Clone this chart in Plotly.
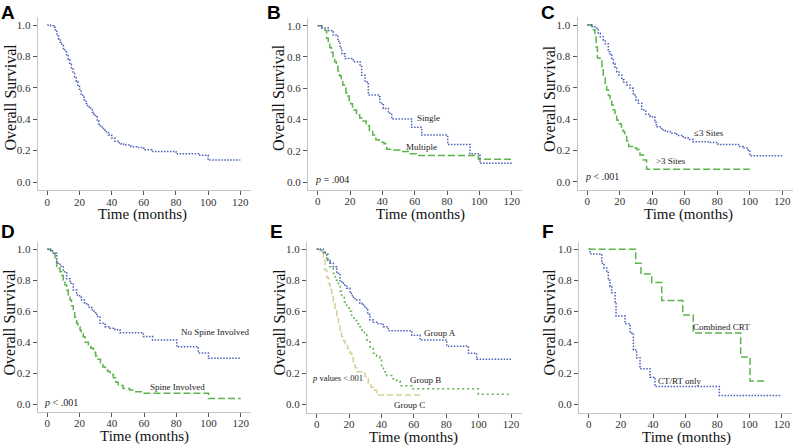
import plotly.graph_objects as go

# ---------------- data (months, survival) ----------------
A_t = [0, 2, 4, 5, 6, 7, 8, 9, 10, 11, 12, 13, 14, 15, 16, 17, 18, 19, 20, 21, 22, 23, 24, 25, 26, 27, 28, 29, 30, 31, 32, 33, 34, 35, 36, 38, 40, 42, 44, 46, 48, 52, 56, 60, 65, 80, 94, 100, 120]
A_s = [1.0, 0.995, 0.985, 0.96, 0.93, 0.91, 0.89, 0.87, 0.85, 0.83, 0.81, 0.78, 0.75, 0.72, 0.70, 0.67, 0.64, 0.61, 0.59, 0.56, 0.54, 0.52, 0.50, 0.48, 0.47, 0.46, 0.445, 0.43, 0.415, 0.39, 0.37, 0.35, 0.34, 0.33, 0.32, 0.30, 0.28, 0.26, 0.25, 0.24, 0.235, 0.225, 0.22, 0.205, 0.195, 0.18, 0.17, 0.14, 0.14]

B_single_t = [0, 2.5, 6.5, 9.6, 12.5, 13.8, 15, 16.9, 22, 26.2, 27.2, 29.3, 31.3, 37.5, 38.5, 40.6, 43.7, 45.8, 58.1, 64.3, 80.4, 94.2, 100.4, 120]
B_single_s = [1.0, 0.985, 0.97, 0.94, 0.90, 0.857, 0.82, 0.79, 0.77, 0.748, 0.683, 0.64, 0.557, 0.546, 0.503, 0.47, 0.44, 0.403, 0.35, 0.30, 0.24, 0.18, 0.12, 0.12]
B_multi_t = [0, 2.5, 4.5, 5.5, 6.5, 7.5, 8.5, 9.5, 10.5, 11.5, 12.5, 13.5, 14.5, 15.5, 16.5, 17.5, 18.5, 19.5, 20.5, 21.5, 22.5, 24, 26, 28, 30, 32, 34, 36, 38, 41, 42.7, 47, 52, 56, 61, 99.4, 120]
B_multi_s = [1.0, 0.985, 0.97, 0.92, 0.89, 0.86, 0.83, 0.80, 0.77, 0.74, 0.71, 0.68, 0.65, 0.62, 0.60, 0.57, 0.55, 0.52, 0.50, 0.48, 0.46, 0.43, 0.41, 0.39, 0.36, 0.33, 0.30, 0.27, 0.255, 0.245, 0.21, 0.205, 0.195, 0.18, 0.17, 0.145, 0.145]

C_le3_t = [0, 2.7, 4.7, 6.8, 8, 9.8, 11, 12.9, 14, 15, 16, 17, 18.1, 19.5, 21.2, 22.5, 24.2, 26.3, 28.3, 30, 31.4, 33.5, 36, 38.6, 41.5, 42.5, 45.7, 48, 51, 55, 59, 62, 65.2, 74.5, 80.5, 93, 96, 99, 100, 120]
C_le3_s = [1.0, 0.99, 0.98, 0.947, 0.925, 0.904, 0.88, 0.83, 0.81, 0.78, 0.755, 0.73, 0.70, 0.68, 0.65, 0.635, 0.617, 0.596, 0.553, 0.52, 0.50, 0.457, 0.43, 0.415, 0.38, 0.35, 0.33, 0.32, 0.31, 0.295, 0.28, 0.27, 0.255, 0.25, 0.238, 0.225, 0.215, 0.20, 0.166, 0.166]
C_gt3_t = [0, 2.7, 3.7, 4.7, 5.4, 6.2, 7.8, 9, 9.8, 11, 11.9, 13, 14, 15, 16, 17, 18.1, 19, 21, 22, 23, 24.2, 25.5, 28, 30.4, 32.4, 34.5, 36.5, 100]
C_gt3_s = [1.0, 0.99, 0.97, 0.925, 0.86, 0.79, 0.77, 0.72, 0.67, 0.62, 0.585, 0.55, 0.52, 0.49, 0.457, 0.42, 0.394, 0.37, 0.34, 0.32, 0.30, 0.26, 0.225, 0.215, 0.205, 0.17, 0.138, 0.08, 0.08]

D_nospine_t = [0, 2, 3.7, 5.8, 7.9, 9.9, 12, 14.1, 16.1, 18.2, 20, 21.3, 23, 24.4, 26, 27.5, 29, 30.7, 32.7, 35.8, 38.9, 42, 45.1, 59.6, 65.3, 80.3, 93.7, 100, 120]
D_nospine_s = [1.0, 0.99, 0.974, 0.91, 0.89, 0.855, 0.81, 0.78, 0.737, 0.705, 0.69, 0.672, 0.655, 0.64, 0.625, 0.608, 0.59, 0.565, 0.522, 0.50, 0.49, 0.48, 0.46, 0.436, 0.414, 0.37, 0.33, 0.295, 0.295]
D_spine_t = [0, 2, 3.7, 4.8, 5.8, 7.9, 9, 9.9, 11, 12, 13, 14.1, 15, 16.1, 17, 18.2, 19, 20.3, 21, 22.3, 23.5, 25.5, 27, 28.6, 30, 31.5, 33, 34.5, 36, 37.5, 39, 41, 42.5, 44, 47, 51, 54, 59.6, 100, 120]
D_spine_s = [1.0, 0.99, 0.974, 0.93, 0.877, 0.855, 0.83, 0.80, 0.77, 0.737, 0.705, 0.672, 0.635, 0.597, 0.56, 0.522, 0.50, 0.478, 0.455, 0.435, 0.40, 0.381, 0.36, 0.335, 0.31, 0.29, 0.265, 0.24, 0.22, 0.21, 0.19, 0.17, 0.14, 0.12, 0.10, 0.09, 0.08, 0.07, 0.035, 0.035]

E_A_t = [0, 4.1, 6.2, 8.2, 10.3, 12.4, 14.4, 16.5, 18.5, 20.6, 22, 23.7, 26.7, 28, 29.8, 31.5, 32.9, 35, 37.1, 41.1, 44.2, 58.7, 63.8, 80.3, 93.7, 98.8, 120]
E_A_s = [1.0, 0.974, 0.93, 0.91, 0.888, 0.845, 0.79, 0.77, 0.748, 0.716, 0.69, 0.673, 0.652, 0.64, 0.62, 0.58, 0.544, 0.53, 0.52, 0.50, 0.475, 0.445, 0.415, 0.375, 0.33, 0.29, 0.29]
E_B_t = [0, 3, 5.1, 7, 8.2, 10.3, 11.5, 13.4, 14.5, 15.4, 17, 18.5, 20, 21.6, 23, 24.7, 26, 27.8, 29.5, 30.9, 32.9, 35, 37, 39, 40, 41.2, 43.2, 46.3, 49.4, 51.5, 58.7, 99.8, 120]
E_B_s = [1.0, 0.99, 0.97, 0.92, 0.888, 0.845, 0.80, 0.76, 0.73, 0.695, 0.66, 0.63, 0.60, 0.565, 0.54, 0.52, 0.50, 0.48, 0.45, 0.415, 0.37, 0.33, 0.31, 0.30, 0.25, 0.21, 0.185, 0.165, 0.15, 0.12, 0.10, 0.065, 0.065]
E_C_t = [0, 2, 4.1, 5.1, 6.2, 7.2, 8.2, 9.3, 10.3, 11.3, 12.4, 13.4, 14.4, 15.4, 16.5, 17.5, 19, 20.6, 21.6, 22.6, 23.7, 24.7, 27.8, 29.8, 31.9, 33.5, 35, 37, 63.8]
E_C_s = [1.0, 0.99, 0.95, 0.866, 0.82, 0.78, 0.74, 0.695, 0.65, 0.608, 0.565, 0.52, 0.48, 0.436, 0.41, 0.39, 0.36, 0.33, 0.30, 0.265, 0.235, 0.21, 0.20, 0.18, 0.135, 0.11, 0.09, 0.06, 0.06]

F_crt_t = [0, 29.2, 32.5, 39.2, 45.4, 58.5, 65, 94.5, 100.3, 109.6]
F_crt_s = [1.0, 0.91, 0.84, 0.785, 0.67, 0.576, 0.46, 0.305, 0.15, 0.15]
F_only_t = [0, 0.8, 8.1, 9.5, 11.2, 12.2, 13.2, 14.3, 16.4, 17, 22.6, 25.7, 27.8, 29.8, 31.9, 38.1, 41.2, 81.2, 120]
F_only_s = [1.0, 0.97, 0.91, 0.88, 0.85, 0.80, 0.76, 0.72, 0.65, 0.57, 0.52, 0.46, 0.35, 0.30, 0.23, 0.175, 0.115, 0.057, 0.057]

x_ticks = [0, 20, 40, 60, 80, 100, 120]
y_ticks = [0.0, 0.2, 0.4, 0.6, 0.8, 1.0]
panel_letters = ["A", "B", "C", "D", "E", "F"]
y_title = "Overall Survival"
x_title = "Time (months)"

# ---------------- styling / layout ----------------
W, H = 795, 446
BLUE = "#4d5fb8"
GREEN = "#5cb44c"
TAN = "#d8cf98"
SERIF = "Liberation Serif, Times New Roman, serif"
SANS = "Liberation Sans, Arial, sans-serif"
XR = [-6, 126.5]
YR = [-0.053, 1.05]

# pixel positions of (x=0, x=120, y=1.0, y=0.0) for each panel
panels_px = [
    (47.3, 240.3, 25.0, 182.0),
    (317.7, 511.7, 25.7, 182.0),
    (587.3, 782.3, 25.0, 181.7),
    (47.3, 240.7, 249.3, 404.0),
    (316.7, 511.0, 249.3, 404.3),
    (588.7, 781.7, 249.3, 404.3),
]

fig = go.Figure()
layout = dict(width=W, height=H, margin=dict(l=0, r=0, t=0, b=0),
              paper_bgcolor="white", plot_bgcolor="white", showlegend=False,
              annotations=[])

for i, (x0, x120, y1, y0) in enumerate(panels_px):
    n = i + 1
    sx = (x120 - x0) / 120.0
    sy = (y0 - y1)
    pl = x0 + XR[0] * sx
    pr = x0 + XR[1] * sx
    pt = y0 - YR[1] * sy
    pb = y0 - YR[0] * sy
    xa = "xaxis" if n == 1 else f"xaxis{n}"
    ya = "yaxis" if n == 1 else f"yaxis{n}"
    layout[xa] = dict(domain=[pl / W, pr / W], range=XR, anchor=f"y{'' if n == 1 else n}",
                      showline=True, linecolor="#c4c4c4", linewidth=1, showgrid=False, zeroline=False,
                      ticks="outside", ticklen=4, tickcolor="#555", tickwidth=1,
                      ticklabelstandoff=-3,
                      tickvals=x_ticks, ticktext=[str(v) for v in x_ticks],
                      tickfont=dict(family=SERIF, size=11, color="#333"))
    layout[ya] = dict(domain=[1 - pb / H, 1 - pt / H], range=YR, anchor=f"x{'' if n == 1 else n}",
                      showline=True, linecolor="#c4c4c4", linewidth=1, showgrid=False, zeroline=False,
                      ticks="outside", ticklen=4, tickcolor="#555", tickwidth=1,
                      tickvals=y_ticks, ticktext=[f"{v:.1f}" for v in y_ticks],
                      tickfont=dict(family=SERIF, size=11, color="#333"))

def add(t, s, n, color, dash, width=1.5):
    fig.add_trace(go.Scatter(x=t, y=s, mode="lines", line=dict(color=color, dash=dash, width=width, shape="hv"),
                             xaxis=f"x{'' if n == 1 else n}", yaxis=f"y{'' if n == 1 else n}", hoverinfo="skip"))

DOT = "1.5px,1.5px"
DASH = "7px,3px"
add(A_t, A_s, 1, BLUE, DOT)
add(B_multi_t, B_multi_s, 2, GREEN, DASH)
add(B_single_t, B_single_s, 2, BLUE, DOT)
add(C_gt3_t, C_gt3_s, 3, GREEN, DASH)
add(C_le3_t, C_le3_s, 3, BLUE, DOT)
add(D_spine_t, D_spine_s, 4, GREEN, DASH)
add(D_nospine_t, D_nospine_s, 4, BLUE, DOT)
add(E_C_t, E_C_s, 5, TAN, "6px,3px")
add(E_B_t, E_B_s, 5, GREEN, "2px,3px")
add(E_A_t, E_A_s, 5, BLUE, DOT)
add(F_only_t, F_only_s, 6, BLUE, DOT)
add(F_crt_t, F_crt_s, 6, GREEN, DASH)

ann = layout["annotations"]
# panel letters and axis titles (pixel centres)
letter_px = [(8, 13), (273.5, 13), (548, 13), (7.5, 232), (276.7, 232), (548.3, 232)]
ytitle_px = [(10, 97.5), (279, 98), (550, 99), (9, 322.5), (279, 322.5), (549, 322.5)]
xtitle_px = [(142.8, 214.5), (420.3, 214.5), (688.8, 214.5), (144.2, 436.5), (413.8, 437.5), (686.7, 437.5)]
for i in range(6):
    lx, ly = letter_px[i]
    ann.append(dict(text=f"<b>{panel_letters[i]}</b>", x=lx / W, y=1 - ly / H, xref="paper", yref="paper",
                    xanchor="center", yanchor="middle", showarrow=False,
                    font=dict(family=SANS, size=19, color="black")))
    tx, ty = ytitle_px[i]
    ann.append(dict(text=y_title, x=tx / W, y=1 - ty / H, xref="paper", yref="paper", textangle=-90,
                    xanchor="center", yanchor="middle", showarrow=False,
                    font=dict(family=SERIF, size=16, color="#111")))
    tx, ty = xtitle_px[i]
    ann.append(dict(text=x_title, x=tx / W, y=1 - ty / H, xref="paper", yref="paper",
                    xanchor="center", yanchor="middle", showarrow=False,
                    font=dict(family=SERIF, size=15, color="#111")))

def label(n, text, x, y, size=9, anchor="center"):
    ann.append(dict(text=text, x=x, y=y, xref=f"x{'' if n == 1 else n}", yref=f"y{'' if n == 1 else n}",
                    xanchor=anchor, yanchor="middle", showarrow=False,
                    font=dict(family=SERIF, size=size, color="#222")))

label(2, "Single", 68.5, 0.41)
label(2, "Multiple", 64.3, 0.224)
label(2, "<i>p</i> = .004", -2.7, 0.017, size=10, anchor="left")
label(3, "≤3 Sites", 74.9, 0.31)
label(3, ">3 Sites", 51.3, 0.132)
label(3, "<i>p</i> < .001", -2.5, 0.032, size=10, anchor="left")
label(4, "No Spine Involved", 104, 0.468)
label(4, "Spine Involved", 80.5, 0.108)
label(4, "<i>p</i> < .001", -3.5, 0.009, size=10, anchor="left")
label(5, "Group A", 76, 0.462)
label(5, "Group B", 67, 0.16)
label(5, "Group C", 57.2, -0.004)
label(5, "<i>p</i> values <.001", -4.1, 0.168, size=8.5, anchor="left")
label(6, "Combined CRT", 82.5, 0.497)
label(6, "CT/RT only", 56.8, 0.153)

fig.update_layout(**layout)
fig.write_html("out.html", config={"displayModeBar": False},
               post_script="document.body.style.margin='0px';document.body.style.overflow='hidden';")
